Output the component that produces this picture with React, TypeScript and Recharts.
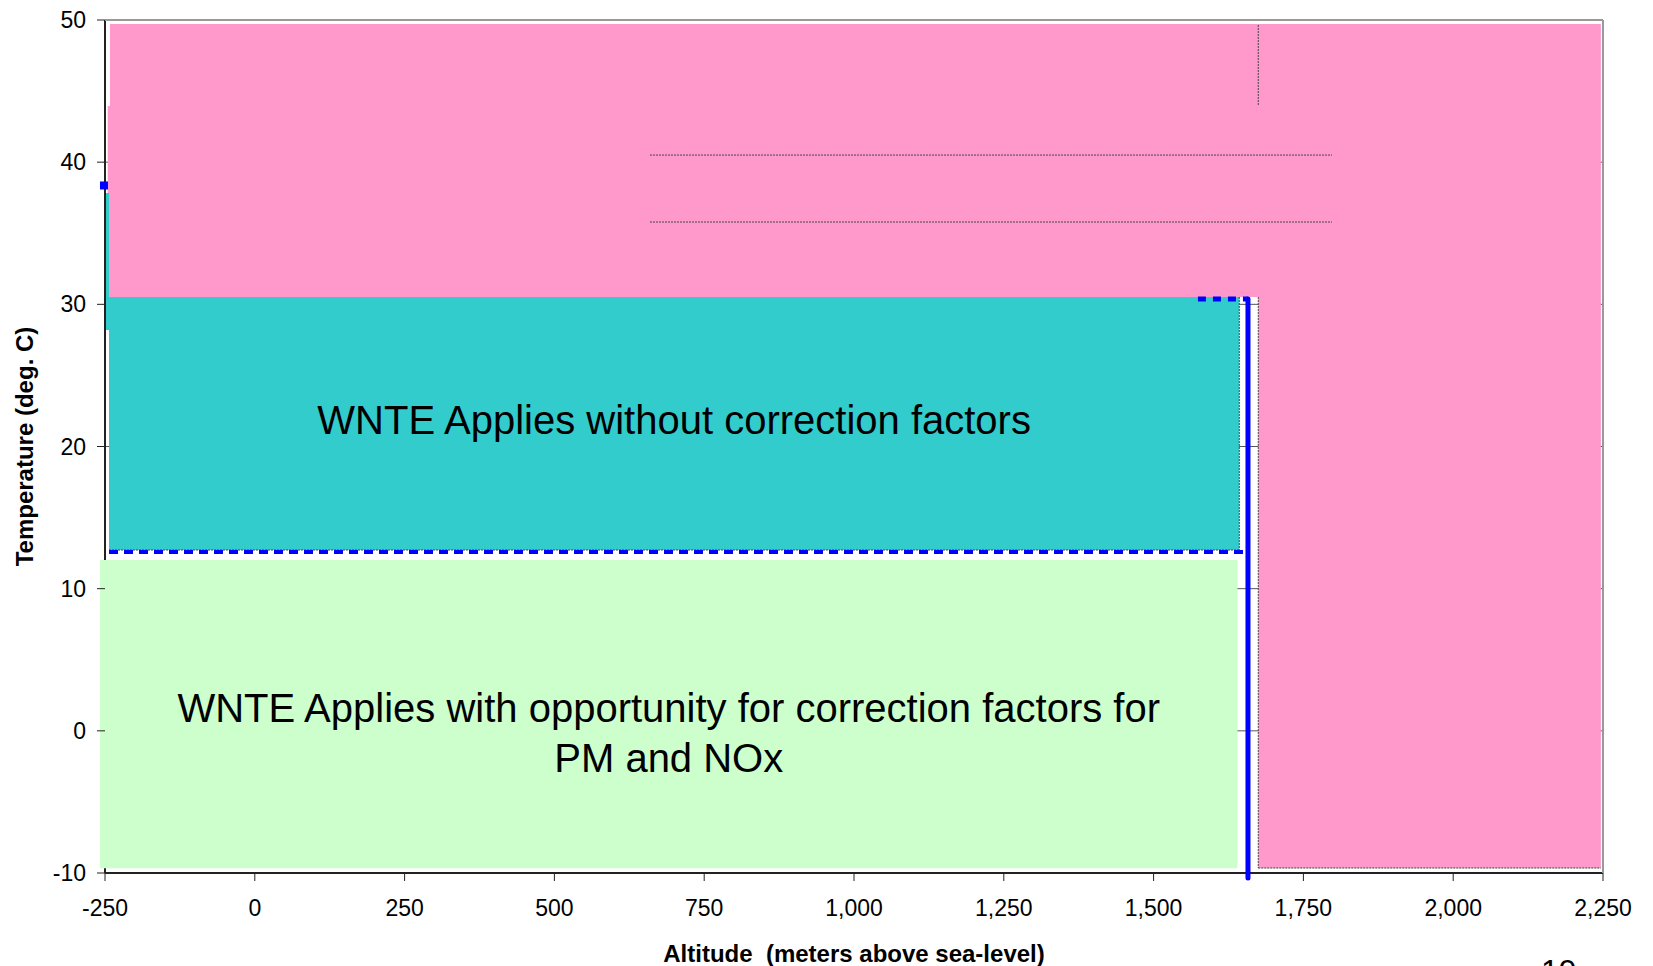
import {
  ComposedChart,
  XAxis,
  YAxis,
  CartesianGrid,
  ReferenceArea,
  ReferenceLine,
  ReferenceDot,
  Label,
} from 'recharts';

const FONT = '"Liberation Sans", Arial, Helvetica, sans-serif';

const altitudeTicks = [-250, 0, 250, 500, 750, 1000, 1250, 1500, 1750, 2000, 2250];
const temperatureTicks = [-10, 0, 10, 20, 30, 40, 50];

// shaded zones (altitude in m, temperature in deg C)
const zoneKeys = ['pinkTop', 'pinkRight', 'pinkEdge', 'cyan', 'cyanEdge', 'green'];
const zoneAltFrom = [-241.7, 1674.7, -245.5, -243.3, -248.8, -258.3];
const zoneAltTo = [2246.5, 2246.5, -241.7, 1643, -243.3, 1640];
const zoneTempFrom = [30.52, -9.65, 30.52, 12.72, 28.2, -9.67];
const zoneTempTo = [49.72, 30.52, 43.95, 30.52, 37.83, 12.02];

// thin grey outlines
const guideAltFrom = [1674.7, 659.5, 659.5, 1674.7, 1674.7, 1643, -243.3];
const guideAltTo = [1674.7, 1797.7, 1797.7, 1674.7, 2246.5, 1643, 1643];
const guideTempFrom = [49.65, 40.5, 35.79, 30.52, -9.65, 30.52, 12.72];
const guideTempTo = [43.95, 40.5, 35.79, -9.65, -9.65, 12.72, 12.72];

// blue limit lines
const limitKeys = ['lowDash', 'topDash', 'altLimit'];
const limitAltFrom = [-243.3, 1574, 1657.5];
const limitAltTo = [1657.5, 1657.5, 1657.5];
const limitTempFrom = [12.58, 30.38, 30.38];
const limitTempTo = [12.58, 30.38, -10.35];

const markerAlt = -251.7;
const markerTemp = 38.36;

const cyanText = ['WNTE Applies without correction factors'];
const greenText = ['WNTE Applies with opportunity for correction factors for', 'PM and NOx'];

const zoneFill: Record<string, string> = {
  pinkTop: '#FF99CC',
  pinkRight: '#FF99CC',
  pinkEdge: '#FF99CC',
  cyan: '#33CCCC',
  cyanEdge: '#33CCCC',
  green: '#CCFFCC',
};

const limitStyle: Record<string, { width: number; dash?: string }> = {
  lowDash: { width: 4, dash: '9 6' },
  topDash: { width: 5, dash: '8 7' },
  altLimit: { width: 5 },
};

function zoneText(lines: string[], shiftY: number) {
  return (props: any) => {
    const vb = props.viewBox;
    const cx = vb.x + vb.width / 2;
    const cy = vb.y + vb.height / 2 + shiftY;
    return (
      <text x={cx} y={cy} textAnchor="middle" fontSize={40} fontFamily={FONT} fill="#000">
        {lines.map((l, i) => (
          <tspan key={i} x={cx} dy={i === 0 ? 0 : 50}>
            {l}
          </tspan>
        ))}
      </text>
    );
  };
}

const tickStyle = { fill: '#000', fontSize: 23, fontFamily: FONT };

export default function App() {
  return (
    <div
      style={{
        position: 'absolute',
        left: 0,
        top: 0,
        width: 1653,
        height: 966,
        overflow: 'hidden',
        background: '#fff',
      }}
    >
      <ComposedChart width={1653} height={966} margin={{ top: 20, right: 50, bottom: 0, left: 0 }}>
        <CartesianGrid vertical={false} stroke="#555" />
        <XAxis
          type="number"
          dataKey="alt"
          domain={[-250, 2250]}
          ticks={altitudeTicks}
          interval={0}
          allowDataOverflow
          tickFormatter={(v) => Number(v).toLocaleString('en-US')}
          tick={tickStyle}
          tickSize={8}
          tickMargin={19}
          tickLine={{ stroke: '#222' }}
          axisLine={false}
          height={93}
        >
          <Label
            value={'Altitude\u00A0 (meters above sea-level)'}
            position="insideBottom"
            offset={4}
            fontSize={24}
            fontWeight="bold"
            fontFamily={FONT}
            fill="#000"
          />
        </XAxis>
        <YAxis
          type="number"
          domain={[-10, 50]}
          ticks={temperatureTicks}
          interval={0}
          allowDataOverflow
          tick={tickStyle}
          tickSize={8}
          tickMargin={11}
          tickLine={{ stroke: '#222' }}
          axisLine={false}
          width={105}
        >
          <Label
            value="Temperature (deg. C)"
            angle={-90}
            position="insideLeft"
            offset={24}
            fontSize={24}
            fontWeight="bold"
            fontFamily={FONT}
            fill="#000"
            style={{ textAnchor: 'middle' }}
          />
        </YAxis>

        {/* axis lines and frame, drawn as segments so the zones can sit on top */}
        <ReferenceLine segment={[{ x: -250, y: 50 }, { x: -250, y: 12.02 }]} stroke="#222" strokeWidth={2} ifOverflow="visible" />
        <ReferenceLine segment={[{ x: -250, y: -9.67 }, { x: -250, y: -10 }]} stroke="#222" strokeWidth={2} ifOverflow="visible" />
        <ReferenceLine segment={[{ x: -250, y: -10 }, { x: 2250, y: -10 }]} stroke="#222" strokeWidth={2} ifOverflow="visible" />
        <ReferenceLine segment={[{ x: -250, y: 50 }, { x: 2250, y: 50 }]} stroke="#999" strokeWidth={2} ifOverflow="visible" />
        <ReferenceLine segment={[{ x: 2250, y: 50 }, { x: 2250, y: -10 }]} stroke="#999" strokeWidth={2} ifOverflow="visible" />

        {zoneKeys.map((k, i) => (
          <ReferenceArea
            key={k}
            x1={zoneAltFrom[i]}
            x2={zoneAltTo[i]}
            y1={zoneTempFrom[i]}
            y2={zoneTempTo[i]}
            fill={zoneFill[k]}
            fillOpacity={1}
            stroke="none"
            ifOverflow="visible"
            label={k === 'cyan' ? zoneText(cyanText, 10.5) : k === 'green' ? zoneText(greenText, 7.5) : undefined}
          />
        ))}

        {guideAltFrom.map((a, i) => (
          <ReferenceLine
            key={'g' + i}
            segment={[
              { x: a, y: guideTempFrom[i] },
              { x: guideAltTo[i], y: guideTempTo[i] },
            ]}
            stroke="#444"
            strokeWidth={1}
            strokeDasharray="2 1"
            ifOverflow="visible"
          />
        ))}

        {limitKeys.map((k, i) => (
          <ReferenceLine
            key={k}
            segment={[
              { x: limitAltFrom[i], y: limitTempFrom[i] },
              { x: limitAltTo[i], y: limitTempTo[i] },
            ]}
            stroke="#0000FF"
            strokeWidth={limitStyle[k].width}
            strokeDasharray={limitStyle[k].dash}
            strokeLinecap={limitStyle[k].dash ? 'butt' : 'round'}
            ifOverflow="visible"
          />
        ))}

        <ReferenceDot
          x={markerAlt}
          y={markerTemp}
          r={4}
          ifOverflow="visible"
          shape={(p: any) => <rect x={p.cx - 4} y={p.cy - 4} width={8} height={8} fill="#0000FF" />}
        />
      </ComposedChart>
      <div
        style={{
          position: 'absolute',
          left: 1541,
          top: 953,
          fontSize: 32,
          fontFamily: FONT,
          lineHeight: 'normal',
          color: '#000',
        }}
      >
        19
      </div>
    </div>
  );
}
